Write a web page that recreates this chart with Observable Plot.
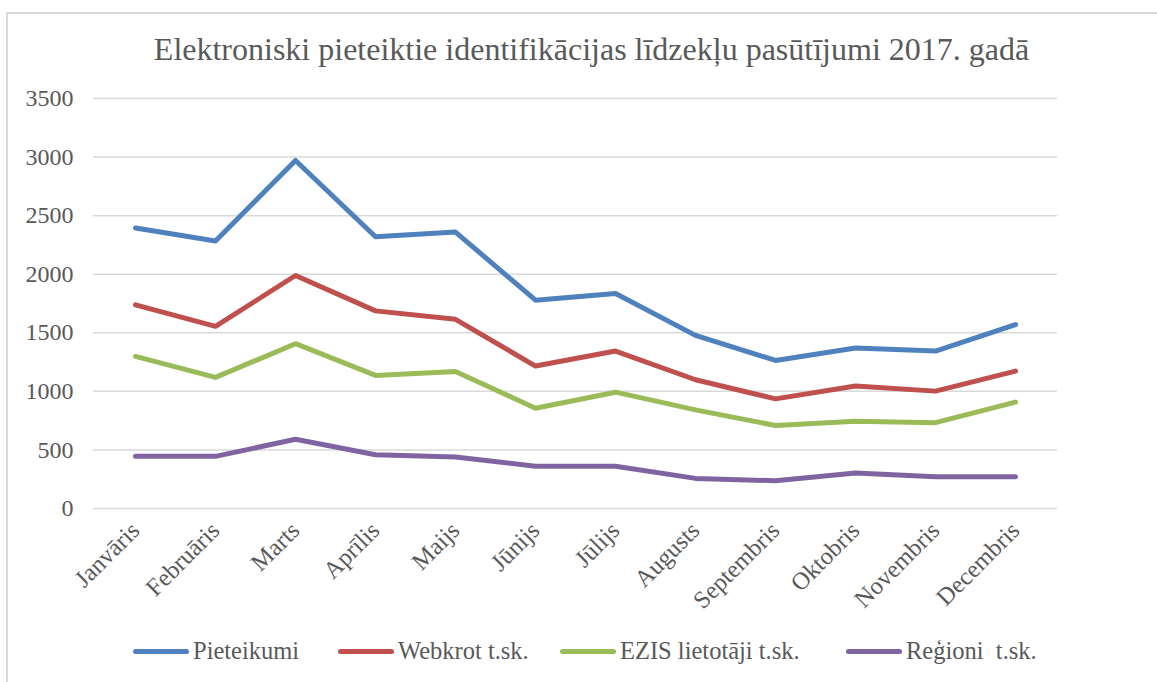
<!DOCTYPE html>
<html>
<head>
<meta charset="utf-8">
<script src="https://cdn.jsdelivr.net/npm/d3@7"></script>
<script src="https://cdn.jsdelivr.net/npm/@observablehq/plot@0.6"></script>
<style>
  html, body { margin: 0; padding: 0; background: #fff; overflow: hidden; }
  #fig { position: relative; width: 1157px; height: 682px; font-family: "Liberation Serif", "DejaVu Serif", serif; color: #595959; }
  #frame { position: absolute; left: 6px; top: 12px; width: 1300px; height: 800px; border: 2px solid #d9d9d9; box-sizing: border-box; }
  #title { position: absolute; left: 0; width: 1183px; top: 31px; text-align: center; font-size: 32px; white-space: nowrap; }
  #chart { position: absolute; left: 0; top: 80px; }
  .leg { position: absolute; top: 637px; display: flex; align-items: center; font-size: 24.5px; white-space: pre; }
  .sw { display: inline-block; width: 56px; height: 5px; border-radius: 3px; margin-right: 4px; }
</style>
</head>
<body>
<div id="fig">
  <div id="frame"></div>
  <div id="title">Elektroniski pieteiktie identifikācijas līdzekļu pasūtījumi 2017. gadā</div>
  <div id="chart"></div>
  <div id="legend"></div>
</div>
<script>
const months = ["Janvāris", "Februāris", "Marts", "Aprīlis", "Maijs", "Jūnijs", "Jūlijs", "Augusts", "Septembris", "Oktobris", "Novembris", "Decembris"];
const seriesNames = ["Pieteikumi", "Webkrot t.sk.", "EZIS lietotāji t.sk.", "Reģioni  t.sk."];
const seriesColors = ["#4f81bd", "#c0504d", "#9bbb59", "#8064a2"];
const pieteikumi = [2394, 2283, 2971, 2320, 2360, 1778, 1835, 1478, 1264, 1370, 1344, 1570];
const webkrot = [1738, 1555, 1989, 1687, 1615, 1216, 1344, 1099, 936, 1045, 1002, 1173];
const ezis = [1298, 1119, 1407, 1136, 1170, 856, 993, 842, 708, 745, 733, 908];
const regioni = [445, 445, 591, 459, 440, 360, 360, 257, 237, 303, 271, 271];
const yTicks = [0, 500, 1000, 1500, 2000, 2500, 3000, 3500];
const legendX = [133, 338, 560, 846];

const allValues = [pieteikumi, webkrot, ezis, regioni];
const data = [];
allValues.forEach((vals, si) => vals.forEach((v, i) => data.push({month: months[i], value: v, series: seriesNames[si]})));

const plot = Plot.plot({
  width: 1157,
  height: 560,
  marginLeft: 93,
  marginRight: 100,
  marginTop: 18,
  marginBottom: 132,
  style: {fontFamily: "'Liberation Serif', 'DejaVu Serif', serif", color: "#595959", background: "transparent", overflow: "visible"},
  x: {type: "point", domain: months, padding: 0.5},
  y: {domain: [0, 3500]},
  color: {domain: seriesNames, range: seriesColors},
  marks: [
    Plot.ruleY(yTicks, {stroke: "#d9d9d9", strokeWidth: 1.5}),
    Plot.axisY({ticks: yTicks, tickFormat: d => String(d), tickSize: 0, tickPadding: 20, fontSize: 24, label: null, fill: "#595959"}),
    Plot.axisX({tickSize: 0, tickPadding: 18, tickRotate: -45, fontSize: 24.5, label: null, fill: "#595959"}),
    Plot.line(data, {x: "month", y: "value", z: "series", stroke: "series", strokeWidth: 5, strokeLinecap: "round", strokeLinejoin: "round"})
  ]
});
document.getElementById("chart").appendChild(plot);

const legend = document.getElementById("legend");
seriesNames.forEach((name, i) => {
  const item = document.createElement("div");
  item.className = "leg";
  item.style.left = legendX[i] + "px";
  const sw = document.createElement("span");
  sw.className = "sw";
  sw.style.background = seriesColors[i];
  const tx = document.createElement("span");
  tx.textContent = name;
  item.appendChild(sw);
  item.appendChild(tx);
  legend.appendChild(item);
});
</script>
</body>
</html>
